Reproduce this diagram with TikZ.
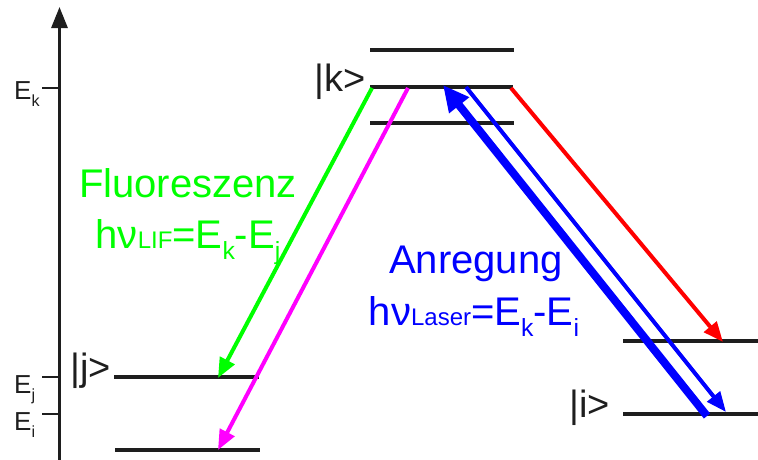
\documentclass[tikz,border=0pt]{standalone}
\usepackage{fontspec}
\setmainfont{Liberation Sans}
\usetikzlibrary{arrows.meta}
\definecolor{lgreen}{RGB}{0,255,0}
\definecolor{lblue}{RGB}{0,0,255}
\definecolor{lmag}{RGB}{255,0,255}
\definecolor{lred}{RGB}{255,0,0}
\definecolor{lblack}{RGB}{30,30,30}
\newcommand\lsub[1]{\raisebox{-0.28em}{\scalebox{0.62}{#1}}}
\newcommand\bsub[1]{\scalebox{0.6}{#1}}
\begin{document}
\begin{tikzpicture}[x=1pt,y=-1pt,
  level/.style={line width=4pt,draw=lblack},
  tick/.style={line width=1.5pt,draw=lblack},
  trans/.style={line width=4pt,-{Triangle[length=20pt,width=16pt]}},
  biglab/.style={font=\fontsize{40}{41}\selectfont,inner sep=0pt,anchor=base},
  ketlab/.style={font=\fontsize{38}{40}\selectfont,inner sep=0pt,anchor=base east,text=lblack},
  elab/.style={font=\fontsize{26}{27}\selectfont,inner sep=0pt,anchor=base west,text=lblack}]
\useasboundingbox (0,0) rectangle (758,459);
% axis
\coordinate (ax0) at (59.5,462);
\coordinate (ax1) at (59.5,7);
\draw[line width=3pt,draw=lblack,-{Triangle[length=21pt,width=16pt]}] (ax0) -- (ax1);
% ticks
\coordinate (tk0) at (42,88);  \coordinate (tk1) at (59,88);
\coordinate (tj0) at (42,377); \coordinate (tj1) at (59,377);
\coordinate (ti0) at (42,414); \coordinate (ti1) at (59,414);
\draw[tick] (tk0) -- (tk1);
\draw[tick] (tj0) -- (tj1);
\draw[tick] (ti0) -- (ti1);
\node[elab] (Ek) at (14,99) {E\lsub{k}};
\node[elab] (Ej) at (14,393) {E\lsub{j}};
\node[elab] (Ei) at (14,430) {E\lsub{i}};
% levels
\coordinate (k2a) at (370,50);  \coordinate (k2b) at (514,50);
\coordinate (ka) at (370,87);   \coordinate (kb) at (513,87);
\coordinate (k3a) at (370,123); \coordinate (k3b) at (514,123);
\coordinate (ja) at (114,377);  \coordinate (jb) at (259,377);
\coordinate (j2a) at (115,450); \coordinate (j2b) at (260,450);
\coordinate (i2a) at (623,341); \coordinate (i2b) at (758,341);
\coordinate (ia) at (623,414);  \coordinate (ib) at (758,414);
\draw[level] (k2a) -- (k2b);
\draw[level] (ka) -- (kb);
\draw[level] (k3a) -- (k3b);
\draw[level] (ja) -- (jb);
\draw[level] (j2a) -- (j2b);
\draw[level] (i2a) -- (i2b);
\draw[level] (ia) -- (ib);
\node[ketlab] (kl) at (366,91) {|k>};
\node[ketlab] (jl) at (111,380) {|j>};
\node[ketlab] (il) at (610,417) {|i>};
% transitions
\coordinate (gs) at (372,88);  \coordinate (ge) at (218,378);
\coordinate (ms) at (408,88);  \coordinate (me) at (218,450);
\coordinate (rs) at (511,88);  \coordinate (re) at (723,342);
\coordinate (bs) at (707,416); \coordinate (be) at (443,85);
\coordinate (ts) at (466,87);  \coordinate (te) at (726,412);
\draw[trans,draw=lgreen,fill=lgreen] (gs) -- (ge);
\draw[trans,draw=lmag,fill=lmag] (ms) -- (me);
\draw[trans,draw=lred,fill=lred] (rs) -- (re);
\draw[line width=8pt,draw=lblue,-{Triangle[length=26pt,width=24pt]}] (bs) -- (be);
\draw[trans,draw=lblue] (ts) -- (te);
% texts
\node[biglab,text=lgreen] (fl1) at (188,197) {Fluoreszenz};
\node[biglab,text=lgreen] (fl2) at (188,248) {hν\bsub{LIF}=E\lsub{k}-E\lsub{j}};
\node[biglab,text=lblue] (an1) at (476,273) {Anregung};
\node[biglab,text=lblue] (an2) at (474,325) {hν\bsub{Laser}=E\lsub{k}-E\lsub{i}};
\end{tikzpicture}
\end{document}
